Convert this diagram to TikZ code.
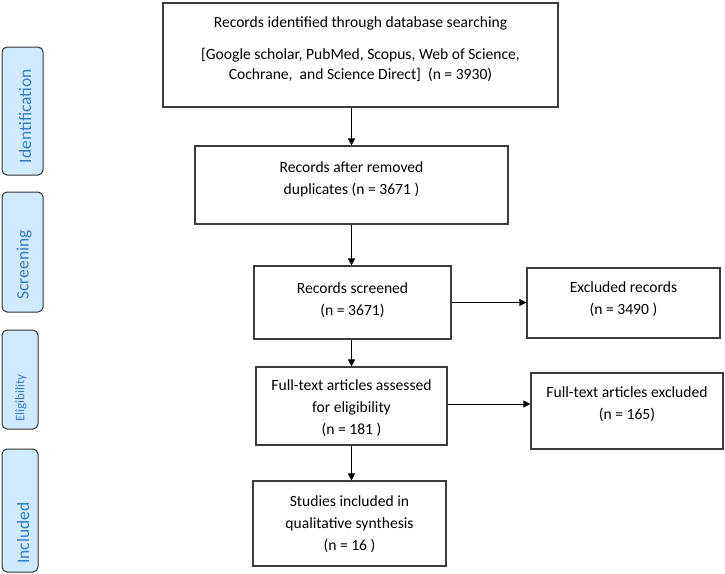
\documentclass[tikz,border=0pt]{standalone}
\usepackage{fontspec}
\setmainfont{Carlito}
\usetikzlibrary{arrows.meta}
\definecolor{boxline}{RGB}{60,60,60}
\definecolor{sidefill}{RGB}{208,235,255}
\definecolor{sideline}{RGB}{50,50,50}
\definecolor{sidetext}{RGB}{52,125,200}
\tikzset{
  mainbox/.style={draw=boxline, line width=1.1pt, fill=white, inner sep=0pt},
  sidebox/.style={draw=sideline, line width=1pt, fill=sidefill, rounded corners=5pt, inner sep=0pt},
  boxtext/.style={align=center, inner sep=0pt, font=\fontsize{15.6}{22}\selectfont},
  sidetxt/.style={rotate=90, inner sep=0pt, text=sidetext, font=\fontsize{17.5}{20}\selectfont},
  arr/.style={draw=black, line width=0.9pt, -{Triangle[length=7pt,width=7pt]}}
}
\begin{document}
\begin{tikzpicture}[x=1pt,y=-1pt]
\useasboundingbox (0,0) rectangle (725,573);
% side boxes
\node[sidebox, minimum width=41pt, minimum height=128pt] (s1) at (22.5,111) {};
\node[sidebox, minimum width=41pt, minimum height=120pt] (s2) at (22.5,252) {};
\node[sidebox, minimum width=36pt, minimum height=99pt] (s3) at (20,379.5) {};
\node[sidebox, minimum width=36pt, minimum height=123pt] (s4) at (20,510.5) {};
\node[sidetxt] (s1t) at (25,116) {Identification};
\node[sidetxt] (s2t) at (24,265) {Screening};
\node[sidetxt, font=\fontsize{13}{16}\selectfont] (s3t) at (21,398) {Eligibility};
\node[sidetxt] (s4t) at (23,533) {Included};
% main boxes
\node[mainbox, minimum width=395pt, minimum height=104pt] (b1) at (360.5,55) {};
\node[mainbox, minimum width=313pt, minimum height=78pt] (b2) at (351.5,185) {};
\node[mainbox, minimum width=197pt, minimum height=73pt] (b3) at (352.5,302.5) {};
\node[mainbox, minimum width=193pt, minimum height=70pt] (e1) at (623.5,303) {};
\node[mainbox, minimum width=191pt, minimum height=78pt] (b4) at (351.5,406) {};
\node[mainbox, minimum width=192pt, minimum height=76pt] (e2) at (627,411) {};
\node[mainbox, minimum width=193pt, minimum height=85pt] (b6) at (349.5,523.5) {};
% texts
\node[boxtext, font=\fontsize{15.6}{20}\selectfont] (t1) at (360.5,49) {Records identified through database searching\\[12pt]
[Google scholar, PubMed, Scopus, Web of Science,\\ Cochrane,\ \ and Science Direct]\ \ (n = 3930)};
\node[boxtext] (t2) at (351.5,179) {Records after removed\\duplicates (n = 3671 )};
\node[boxtext] (t3) at (352.5,300) {Records screened\\(n = 3671)};
\node[boxtext] (te1) at (623.5,299.5) {Excluded records\\(n = 3490 )};
\node[boxtext] (t4) at (351.5,408.5) {Full-text articles assessed\\for eligibility\\(n = 181 )};
\node[boxtext] (te2) at (627,404) {Full-text articles excluded\\(n = 165)};
\node[boxtext] (t6) at (349.5,524.5) {Studies included in\\qualitative synthesis\\(n = 16 )};
% connectors
\draw[arr] (b1.south -| b2.north) -- (b2.north);
\draw[arr] (b2.south) -- (b3.north -| b2.south);
\draw[arr] (b3.south -| b4.north) -- (b4.north);
\draw[arr] (b4.south) -- (b6.north -| b4.south);
\draw[arr] (b3.east) -- (b3.east -| e1.west);
\draw[arr] ([yshift=2pt]b4.east) -- ([yshift=2pt]b4.east -| e2.west);
\end{tikzpicture}
\end{document}
